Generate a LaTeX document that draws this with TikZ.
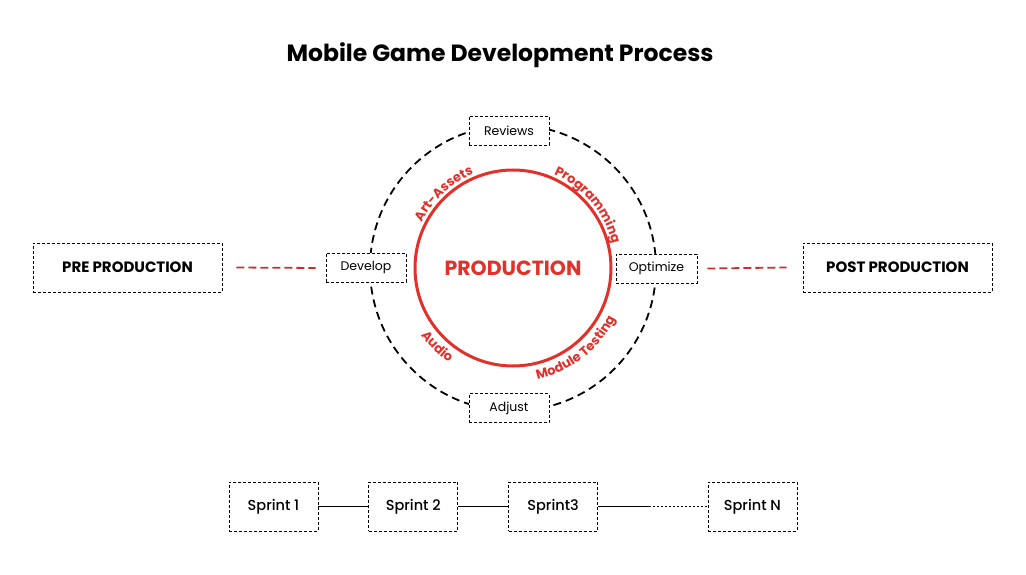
\documentclass[tikz,border=0pt]{standalone}
\usepackage{fontspec}
\setmainfont{Poppins}
\newfontfamily\medfont{Poppins Medium}
\usepackage{xcolor}
\definecolor{prodred}{HTML}{E3302A}
\definecolor{linkred}{HTML}{C9302C}
\usepackage{tikz}
\usetikzlibrary{positioning, decorations.text}
\newcommand{\arcfont}{\color{prodred}\bfseries\fontsize{13}{15}\selectfont}

\begin{document}
\begin{tikzpicture}[
            x=1pt, y=1pt,
            node distance=50pt,
            phasebox/.style={rectangle, draw=black, dash pattern=on 3pt off 2pt, fill=white, minimum width=189pt, minimum height=49pt, inner sep=0pt, line width=0.8pt, font=\fontsize{15}{18}\selectfont\bfseries},
            stepbox/.style={rectangle, draw=black, dash pattern=on 3pt off 2pt, fill=white, minimum width=80pt, minimum height=29pt, inner sep=0pt, line width=0.8pt, font=\fontsize{12.5}{15}\selectfont},
            sprintbox/.style={rectangle, draw=black, dash pattern=on 3pt off 2pt, fill=white, minimum width=89pt, minimum height=49pt, inner sep=0pt, line width=0.8pt, font=\fontsize{14.5}{17}\selectfont\medfont},
            arclabel/.style={decorate, decoration={text along path, text align=center, text={|\arcfont|#1}}}
        ]
            \useasboundingbox (0,0) rectangle (1026,574);

            % Title
            \node[font=\fontsize{23.5}{28}\selectfont\bfseries] (title) at (500,519) {Mobile Game Development Process};

            % Circles
            \coordinate (c) at (513,306);
            \draw[black, line width=1.8pt, dash pattern=on 8pt off 5pt] (c) circle[radius=143];
            \draw[prodred, line width=3pt] (c) circle[radius=98];
            \node[prodred, font=\fontsize{20.5}{24}\selectfont\bfseries] (prod) at (c) {PRODUCTION};

            % Labels round the circle
            \path[arclabel=Art-Assets] ([shift={(162:102)}]c) arc[start angle=162, end angle=104, radius=102];
            \path[arclabel=Programming] ([shift={(72:102)}]c) arc[start angle=72, end angle=8, radius=102];
            \path[arclabel=Audio] ([shift={(198:114)}]c) arc[start angle=198, end angle=254, radius=114];
            \path[arclabel=Module Testing] ([shift={(270:114)}]c) arc[start angle=270, end angle=346, radius=114];

            % Nodes
            \node[stepbox] (reviews) at (509,443) {Reviews};
            \node[stepbox] (adjust) at (509,166) {Adjust};
            \node[stepbox] (develop) at (366,306) {Develop};
            \node[stepbox, minimum width=81pt] (optimize) at (656.5,305.5) {Optimize};
            \node[phasebox] (pre) at (127.5,306.5) {PRE PRODUCTION};
            \node[phasebox] (post) at (897.5,306.5) {POST PRODUCTION};

            % Links
            \draw[linkred, line width=1.8pt, dash pattern=on 8pt off 4pt] ([xshift=14pt]pre.east) -- ([xshift=-10pt]develop.west);
            \draw[linkred, line width=1.8pt, dash pattern=on 8pt off 4pt] ([xshift=10pt]optimize.east) -- ([xshift=-16pt]post.west);

            % Sprints
            \node[sprintbox] (sprint1) at (273.5,67.5) {Sprint 1};
            \node[sprintbox, right=of sprint1] (sprint2) {Sprint 2};
            \node[sprintbox, right=of sprint2] (sprint3) {Sprint3};
            \node[sprintbox, right=109.5pt of sprint3] (sprintN) {Sprint N};
            \coordinate (gap) at (649,67.5);
            \draw[line width=0.8pt] (sprint1) -- (sprint2);
            \draw[line width=0.8pt] (sprint2) -- (sprint3);
            \draw[line width=0.8pt] (sprint3) -- (gap);
            \draw[line width=0.8pt, dash pattern=on 2pt off 2pt] (gap) -- (sprintN);
        \end{tikzpicture}
\end{document}
